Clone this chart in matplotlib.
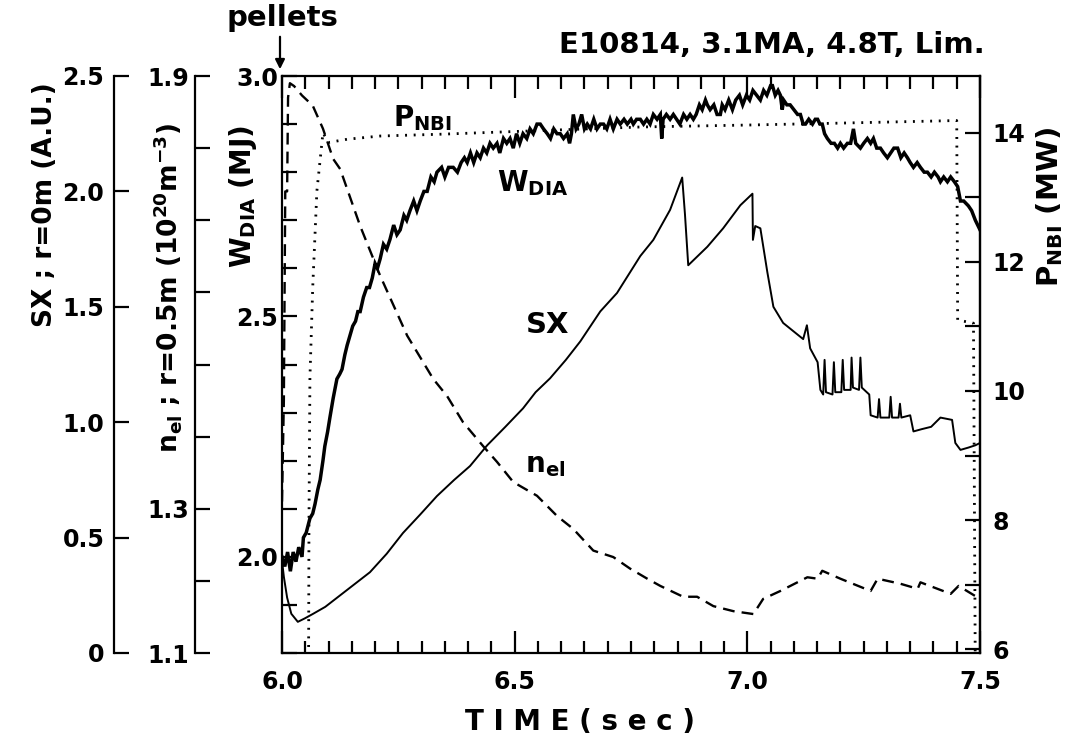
import matplotlib.pyplot as plt
from matplotlib.ticker import MultipleLocator, FixedLocator

plt.rcParams['font.family'] = ['DejaVu Sans']
plt.rcParams['font.weight'] = 'bold'
plt.rcParams['mathtext.fontset'] = 'custom'
plt.rcParams['mathtext.rm'] = 'DejaVu Sans:bold'
plt.rcParams['mathtext.default'] = 'rm'

# ---- data ----
# stored energy W_DIA (MJ)
t_w = [6.000, 6.006, 6.012, 6.018, 6.024, 6.030, 6.036, 6.043, 6.046, 6.052,
       6.060, 6.066, 6.071, 6.077, 6.082, 6.088, 6.092, 6.098, 6.103, 6.110,
       6.114, 6.118, 6.124, 6.129, 6.135, 6.140, 6.146, 6.152, 6.158, 6.163,
       6.168, 6.175, 6.182, 6.188, 6.194, 6.200, 6.205, 6.211, 6.218, 6.225,
       6.232, 6.240, 6.247, 6.254, 6.262, 6.268, 6.275, 6.283, 6.290, 6.297,
       6.305, 6.312, 6.320, 6.327, 6.333, 6.343, 6.350, 6.358, 6.368, 6.377,
       6.385, 6.392, 6.398, 6.405, 6.412, 6.419, 6.426, 6.433, 6.440, 6.447,
       6.454, 6.462, 6.468, 6.476, 6.483, 6.490, 6.497, 6.504, 6.511, 6.518,
       6.526, 6.533, 6.540, 6.548, 6.555, 6.562, 6.570, 6.577, 6.584, 6.591,
       6.598, 6.605, 6.613, 6.618, 6.622, 6.626, 6.632, 6.638, 6.644, 6.650,
       6.656, 6.663, 6.670, 6.677, 6.684, 6.691, 6.698, 6.705, 6.712, 6.720,
       6.727, 6.735, 6.742, 6.750, 6.755, 6.762, 6.770, 6.777, 6.784, 6.791,
       6.798, 6.806, 6.813, 6.816, 6.819, 6.826, 6.834, 6.841, 6.848, 6.855,
       6.863, 6.870, 6.877, 6.884, 6.890, 6.897, 6.903, 6.910, 6.914, 6.920,
       6.928, 6.935, 6.942, 6.946, 6.952, 6.960, 6.968, 6.975, 6.983, 6.990,
       6.998, 7.005, 7.012, 7.020, 7.028, 7.035, 7.042, 7.050, 7.054, 7.060,
       7.066, 7.071, 7.075, 7.078, 7.085, 7.092, 7.100, 7.108, 7.114, 7.120,
       7.125, 7.132, 7.140, 7.146, 7.151, 7.156, 7.161, 7.166, 7.172, 7.180,
       7.187, 7.194, 7.200, 7.207, 7.215, 7.222, 7.228, 7.233, 7.243, 7.250,
       7.258, 7.265, 7.271, 7.278, 7.286, 7.293, 7.301, 7.308, 7.315, 7.323,
       7.330, 7.337, 7.344, 7.350, 7.357, 7.365, 7.372, 7.380, 7.387, 7.395,
       7.402, 7.410, 7.415, 7.422, 7.430, 7.437, 7.445, 7.452, 7.458, 7.465,
       7.475, 7.482, 7.490, 7.500]
w_dia = [2.00, 1.98, 2.01, 1.97, 2.01, 1.99, 2.02, 2.00, 2.04, 2.05,
         2.08, 2.09, 2.11, 2.14, 2.16, 2.20, 2.23, 2.26, 2.29, 2.33,
         2.35, 2.37, 2.38, 2.39, 2.42, 2.44, 2.46, 2.48, 2.49, 2.51,
         2.51, 2.54, 2.56, 2.56, 2.58, 2.61, 2.60, 2.62, 2.65, 2.64,
         2.66, 2.69, 2.67, 2.68, 2.71, 2.70, 2.72, 2.74, 2.72, 2.74,
         2.76, 2.76, 2.79, 2.78, 2.80, 2.81, 2.79, 2.81, 2.81, 2.80,
         2.82, 2.83, 2.82, 2.84, 2.82, 2.84, 2.83, 2.85, 2.84, 2.86,
         2.85, 2.86, 2.84, 2.87, 2.86, 2.87, 2.85, 2.88, 2.86, 2.88,
         2.87, 2.89, 2.88, 2.90, 2.90, 2.89, 2.88, 2.87, 2.89, 2.88,
         2.88, 2.87, 2.88, 2.86, 2.88, 2.92, 2.89, 2.90, 2.92, 2.89,
         2.90, 2.89, 2.91, 2.89, 2.90, 2.90, 2.89, 2.91, 2.89, 2.91,
         2.90, 2.91, 2.90, 2.91, 2.90, 2.91, 2.91, 2.90, 2.91, 2.90,
         2.92, 2.91, 2.92, 2.87, 2.91, 2.92, 2.91, 2.92, 2.91, 2.90,
         2.92, 2.91, 2.92, 2.91, 2.92, 2.94, 2.93, 2.95, 2.94, 2.93,
         2.94, 2.92, 2.92, 2.94, 2.93, 2.95, 2.93, 2.95, 2.96, 2.94,
         2.96, 2.95, 2.97, 2.96, 2.95, 2.97, 2.96, 2.98, 2.98, 2.96,
         2.97, 2.96, 2.93, 2.95, 2.94, 2.94, 2.93, 2.92, 2.92, 2.90,
         2.90, 2.91, 2.90, 2.91, 2.91, 2.90, 2.90, 2.88, 2.87, 2.86,
         2.86, 2.85, 2.86, 2.85, 2.86, 2.86, 2.89, 2.86, 2.85, 2.86,
         2.87, 2.86, 2.87, 2.85, 2.85, 2.84, 2.83, 2.84, 2.85, 2.85,
         2.83, 2.84, 2.83, 2.82, 2.81, 2.82, 2.81, 2.80, 2.80, 2.79,
         2.80, 2.79, 2.78, 2.79, 2.78, 2.79, 2.78, 2.77, 2.74, 2.74,
         2.73, 2.72, 2.70, 2.68]

# soft X-ray, r = 0 m (A.U.)
t_sx = [6.000, 6.004, 6.011, 6.020, 6.034, 6.049, 6.067, 6.093, 6.125, 6.157,
        6.189, 6.225, 6.260, 6.297, 6.333, 6.370, 6.404, 6.441, 6.480, 6.518,
        6.545, 6.576, 6.610, 6.641, 6.684, 6.720, 6.770, 6.798, 6.834, 6.860,
        6.866, 6.873, 6.914, 6.948, 6.985, 7.011, 7.012, 7.017, 7.028, 7.043,
        7.056, 7.077, 7.120, 7.128, 7.135, 7.151, 7.157, 7.163, 7.166, 7.169,
        7.183, 7.186, 7.189, 7.202, 7.205, 7.208, 7.222, 7.224, 7.227, 7.240,
        7.243, 7.246, 7.262, 7.265, 7.280, 7.283, 7.286, 7.305, 7.308, 7.311,
        7.325, 7.328, 7.331, 7.350, 7.357, 7.375, 7.395, 7.415, 7.440, 7.447,
        7.458, 7.475, 7.490, 7.500]
sx = [0.40, 0.33, 0.24, 0.17, 0.135, 0.15, 0.17, 0.20, 0.25, 0.30,
      0.35, 0.43, 0.52, 0.60, 0.68, 0.75, 0.81, 0.90, 0.98, 1.06,
      1.13, 1.19, 1.27, 1.35, 1.48, 1.56, 1.72, 1.79, 1.92, 2.06,
      1.90, 1.68, 1.76, 1.84, 1.94, 1.99, 1.79, 1.85, 1.84, 1.65,
      1.50, 1.43, 1.36, 1.42, 1.32, 1.26, 1.14, 1.12, 1.27, 1.13,
      1.12, 1.26, 1.13, 1.13, 1.27, 1.14, 1.14, 1.28, 1.15, 1.14,
      1.28, 1.15, 1.12, 1.03, 1.02, 1.10, 1.02, 1.02, 1.11, 1.02,
      1.02, 1.08, 1.02, 1.03, 0.96, 0.97, 0.98, 1.02, 1.01, 0.91,
      0.88, 0.89, 0.90, 0.91]

# line density n_e l, r = 0.5 m (1e20 m^-3)
t_ne = [6.000, 6.004, 6.007, 6.011, 6.013, 6.017, 6.026, 6.043, 6.066, 6.088,
        6.110, 6.125, 6.168, 6.211, 6.269, 6.325, 6.355, 6.389, 6.432, 6.462,
        6.497, 6.548, 6.591, 6.626, 6.669, 6.712, 6.748, 6.785, 6.813, 6.862,
        6.892, 6.927, 6.970, 7.013, 7.034, 7.071, 7.129, 7.151, 7.161, 7.200,
        7.265, 7.280, 7.329, 7.366, 7.372, 7.437, 7.454, 7.500]
n_el = [1.31, 1.45, 1.74, 1.74, 1.87, 1.89, 1.886, 1.873, 1.859, 1.827,
        1.785, 1.771, 1.692, 1.623, 1.540, 1.480, 1.456, 1.420, 1.387, 1.365,
        1.337, 1.318, 1.290, 1.272, 1.242, 1.233, 1.217, 1.203, 1.193, 1.178,
        1.178, 1.165, 1.158, 1.154, 1.175, 1.186, 1.205, 1.203, 1.214, 1.203,
        1.186, 1.203, 1.196, 1.189, 1.198, 1.182, 1.193, 1.175]

# neutral beam power (MW)
t_nbi = [6.057, 6.058, 6.060, 6.066, 6.075, 6.088, 6.100, 6.140, 6.211, 6.350,
         6.500, 6.770, 7.000, 7.200, 7.450, 7.452, 7.486, 7.490]
p_nbi = [5.5, 8.0, 10.2, 11.6, 13.1, 14.0, 13.85, 13.9, 13.95, 13.98,
         14.02, 14.09, 14.12, 14.15, 14.19, 11.1, 11.05, 5.5]

# ---- layout (pixel positions of the scanned frame) ----
W, H = 1072, 744
L, R, T, B = 282, 980, 76, 653


def fx(px):
    return px / W


def fy(py):
    return 1 - py / H


fig = plt.figure(figsize=(W / 100, H / 100), dpi=100)
ax = fig.add_axes([fx(L), fy(B), (R - L) / W, (B - T) / H])
axp = ax.twinx()
axs = ax.twinx()
axn = ax.twinx()

lw_sp = 1.6
for sp in ax.spines.values():
    sp.set_linewidth(lw_sp)
axp.spines['right'].set_linewidth(lw_sp)
for name in ('left', 'top', 'bottom'):
    axp.spines[name].set_visible(False)

for a, px in ((axs, 114), (axn, 195)):
    for name in ('right', 'top', 'bottom'):
        a.spines[name].set_visible(False)
    a.spines['left'].set_visible(True)
    a.spines['left'].set_linewidth(lw_sp)
    a.spines['left'].set_position(('axes', (px - L) / (R - L)))
    a.yaxis.set_ticks_position('left')
    a.yaxis.set_label_position('left')

# curves
ax.plot(t_w, w_dia, color='black', lw=2.5, solid_joinstyle='miter')
axs.plot(t_sx, sx, color='black', lw=1.4)
axn.plot(t_ne, n_el, color='black', lw=1.7, dashes=(5, 3))
axp.plot(t_nbi, p_nbi, color='black', lw=2.0, dashes=(0.7, 2.4))

# x axis
ax.set_xlim(6.0, 7.5)
ax.xaxis.set_major_locator(FixedLocator([6.0, 6.5, 7.0, 7.5]))
ax.xaxis.set_minor_locator(MultipleLocator(0.05))
ax.set_xticklabels(['6.0', '6.5', '7.0', '7.5'])
ax.tick_params(axis='x', which='both', direction='in', top=True,
               labelsize=17, pad=12, width=1.6)
ax.tick_params(axis='x', which='major', length=16)
ax.tick_params(axis='x', which='minor', length=9)

# W_DIA axis
ax.set_ylim(1.8, 3.0)
ax.yaxis.set_major_locator(FixedLocator([2.0, 2.5, 3.0]))
ax.yaxis.set_minor_locator(MultipleLocator(0.1))
ax.set_yticklabels(['2.0', '2.5', '3.0'])
ax.tick_params(axis='y', which='both', direction='in', length=11,
               width=1.6, labelsize=17, pad=3)

# P_NBI axis
axp.set_ylim(5.94, 14.88)
axp.yaxis.set_major_locator(FixedLocator([6, 8, 10, 12, 14]))
axp.yaxis.set_minor_locator(MultipleLocator(1))
axp.tick_params(axis='y', which='both', direction='in', length=11,
                width=1.6, labelsize=17, pad=9)

# SX axis
axs.set_ylim(0, 2.5)
axs.yaxis.set_major_locator(FixedLocator([0, 0.5, 1.0, 1.5, 2.0, 2.5]))
axs.set_yticklabels(['0', '0.5', '1.0', '1.5', '2.0', '2.5'])
axs.tick_params(axis='y', direction='in', length=11, width=1.6,
                labelsize=17, pad=7)

# n_el axis
axn.set_ylim(1.1, 1.9)
axn.yaxis.set_major_locator(FixedLocator([1.1, 1.3, 1.9]))
axn.yaxis.set_minor_locator(MultipleLocator(0.1))
axn.set_yticklabels(['1.1', '1.3', '1.9'])
axn.tick_params(axis='y', which='both', direction='in', length=11,
                width=1.6, labelsize=17, pad=4)

# axis titles
fig.text(fx(45), fy(205), 'SX ; r=0m (A.U.)', rotation=90,
         ha='center', va='center', fontsize=19)
fig.text(fx(168), fy(288), r'n$_{el}$ ; r=0.5m (10$^{20}$m$^{-3}$)',
         rotation=90, ha='center', va='center', fontsize=19)
fig.text(fx(243), fy(197), r'W$_{DIA}$ (MJ)', rotation=90,
         ha='center', va='center', fontsize=20)
fig.text(fx(1050), fy(207), r'P$_{NBI}$ (MW)', rotation=90,
         ha='center', va='center', fontsize=21)
fig.text(fx(580), fy(722), 'T I M E ( s e c )', ha='center', va='center',
         fontsize=20)

# curve labels
fig.text(fx(423), fy(118), r'P$_{NBI}$', ha='center', va='center', fontsize=20)
fig.text(fx(533), fy(183), r'W$_{DIA}$', ha='center', va='center', fontsize=20)
fig.text(fx(548), fy(325), 'SX', ha='center', va='center', fontsize=21)
fig.text(fx(545), fy(465), r'n$_{el}$', ha='center', va='center', fontsize=20)

# header
fig.text(fx(985), fy(45), 'E10814, 3.1MA, 4.8T, Lim.', ha='right',
         va='center', fontsize=21)
fig.text(fx(282), fy(18), 'pellets', ha='center', va='center', fontsize=21)
ax.annotate('', xy=(fx(280), fy(72)), xytext=(fx(280), fy(34)),
            xycoords='figure fraction', textcoords='figure fraction',
            arrowprops=dict(arrowstyle='-|>', color='black', lw=1.6,
                            mutation_scale=14))

fig.savefig('out.png', dpi=100)
